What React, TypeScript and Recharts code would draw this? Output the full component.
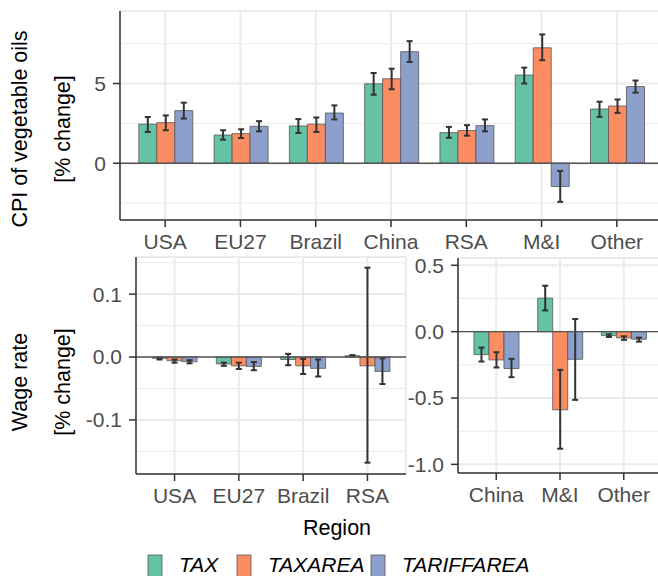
// Two-row bar chart with error bars: CPI of vegetable oils (top) and wage rate (bottom, split in two panels)
import React from "react";
import { BarChart, Bar, XAxis, YAxis, CartesianGrid, ErrorBar, ReferenceLine } from "recharts";

const FONT = '"Liberation Sans", Arial, Helvetica, sans-serif';

const SERIES = [
  { key: "tax", name: "TAX", color: "#66C2A5" },
  { key: "taxArea", name: "TAXAREA", color: "#FC8D62" },
  { key: "tariffArea", name: "TARIFFAREA", color: "#8DA0CB" },
];

// top panel: CPI of vegetable oils [% change]
const cpiRegions = ["USA", "EU27", "Brazil", "China", "RSA", "M&I", "Other"];
const cpiTax = [2.45, 1.77, 2.34, 4.98, 1.92, 5.53, 3.4];
const cpiTaxLo = [1.96, 1.48, 1.9, 4.3, 1.6, 5.0, 2.91];
const cpiTaxHi = [2.9, 2.07, 2.77, 5.66, 2.28, 6.0, 3.86];
const cpiTaxArea = [2.55, 1.86, 2.45, 5.3, 2.05, 7.24, 3.59];
const cpiTaxAreaLo = [2.07, 1.58, 1.96, 4.64, 1.73, 6.46, 3.16];
const cpiTaxAreaHi = [3.0, 2.13, 2.87, 5.93, 2.39, 8.08, 4.0];
const cpiTariff = [3.3, 2.32, 3.15, 7.0, 2.36, -1.46, 4.81];
const cpiTariffLo = [2.8, 2.0, 2.75, 6.35, 2.0, -2.42, 4.43];
const cpiTariffHi = [3.8, 2.64, 3.63, 7.66, 2.75, -0.48, 5.19];

// bottom left panel: wage rate [% change]
const wageRegionsA = ["USA", "EU27", "Brazil", "RSA"];
const wageTaxA = [-0.002, -0.011, -0.004, 0.002];
const wageTaxLoA = [-0.004, -0.014, -0.013, 0.001];
const wageTaxHiA = [-0.001, -0.009, 0.005, 0.003];
const wageTaxAreaA = [-0.006, -0.014, -0.014, -0.014];
const wageTaxAreaLoA = [-0.009, -0.019, -0.027, -0.168];
const wageTaxAreaHiA = [-0.004, -0.009, -0.003, 0.142];
const wageTariffA = [-0.0075, -0.015, -0.018, -0.023];
const wageTariffLoA = [-0.01, -0.021, -0.031, -0.043];
const wageTariffHiA = [-0.005, -0.008, -0.004, -0.002];

// bottom right panel: wage rate [% change]
const wageRegionsB = ["China", "M&I", "Other"];
const wageTaxB = [-0.173, 0.253, -0.03];
const wageTaxLoB = [-0.225, 0.16, -0.04];
const wageTaxHiB = [-0.12, 0.346, -0.02];
const wageTaxAreaB = [-0.213, -0.589, -0.047];
const wageTaxAreaLoB = [-0.27, -0.882, -0.062];
const wageTaxAreaHiB = [-0.155, -0.288, -0.035];
const wageTariffB = [-0.278, -0.208, -0.057];
const wageTariffLoB = [-0.343, -0.514, -0.075];
const wageTariffHiB = [-0.205, 0.095, -0.045];

type Triple = [number[], number[], number[]];

// asymmetric error bars: [below, above] the bar value
function buildRows(regions: string[], tax: Triple, taxArea: Triple, tariff: Triple) {
  return regions.map((region, i) => ({
    region,
    tax: tax[0][i],
    taxErr: [tax[0][i] - tax[1][i], tax[2][i] - tax[0][i]],
    taxArea: taxArea[0][i],
    taxAreaErr: [taxArea[0][i] - taxArea[1][i], taxArea[2][i] - taxArea[0][i]],
    tariffArea: tariff[0][i],
    tariffAreaErr: [tariff[0][i] - tariff[1][i], tariff[2][i] - tariff[0][i]],
  }));
}

const cpiRows = buildRows(
  cpiRegions,
  [cpiTax, cpiTaxLo, cpiTaxHi],
  [cpiTaxArea, cpiTaxAreaLo, cpiTaxAreaHi],
  [cpiTariff, cpiTariffLo, cpiTariffHi]
);
const wageRowsA = buildRows(
  wageRegionsA,
  [wageTaxA, wageTaxLoA, wageTaxHiA],
  [wageTaxAreaA, wageTaxAreaLoA, wageTaxAreaHiA],
  [wageTariffA, wageTariffLoA, wageTariffHiA]
);
const wageRowsB = buildRows(
  wageRegionsB,
  [wageTaxB, wageTaxLoB, wageTaxHiB],
  [wageTaxAreaB, wageTaxAreaLoB, wageTaxAreaHiB],
  [wageTariffB, wageTariffLoB, wageTariffHiB]
);

const BORDER = { stroke: "#333333", strokeWidth: 1.5 };
const TICK_TEXT = { fill: "#4d4d4d", fontSize: 21 };

interface PanelProps {
  rows: ReturnType<typeof buildRows>;
  width: number;
  height: number;
  marginTop: number;
  marginRight: number;
  yWidth: number;
  domain: [number, number];
  ticks: number[];
  minor: number[];
  pad: number;
  fmt: (v: number) => string;
}

function Panel({ rows, width, height, marginTop, marginRight, yWidth, domain, ticks, minor, pad, fmt }: PanelProps) {
  return (
    <BarChart
      width={width}
      height={height}
      data={rows}
      margin={{ top: marginTop, right: marginRight, bottom: 0, left: 0 }}
      barCategoryGap="15%"
      barGap={0}
    >
      <CartesianGrid stroke="#ebebeb" strokeWidth={2} />
      <CartesianGrid stroke="#ebebeb" strokeWidth={1} vertical={false} horizontalValues={minor} />
      <XAxis
        dataKey="region"
        height={40}
        padding={{ left: pad, right: pad }}
        interval={0}
        tickSize={7}
        tickMargin={7}
        tick={TICK_TEXT}
        tickLine={BORDER}
        axisLine={BORDER}
      />
      <XAxis xAxisId="top" dataKey="region" orientation="top" height={0} tick={false} tickLine={false} axisLine={BORDER} />
      <YAxis
        type="number"
        width={yWidth}
        domain={domain}
        allowDataOverflow
        ticks={ticks}
        interval={0}
        tickFormatter={fmt}
        tickSize={7}
        tickMargin={7}
        tick={TICK_TEXT}
        tickLine={BORDER}
        axisLine={BORDER}
      />
      <YAxis yAxisId="right" orientation="right" width={0} tick={false} tickLine={false} axisLine={BORDER} />
      {SERIES.map((s) => (
        <Bar key={s.key} dataKey={s.key} fill={s.color} stroke="#555555" strokeWidth={0.8} isAnimationActive={false}>
          <ErrorBar dataKey={`${s.key}Err`} width={3} stroke="#333333" strokeWidth={2} />
        </Bar>
      ))}
      <ReferenceLine y={0} stroke="#555555" strokeWidth={1.3} />
    </BarChart>
  );
}

export default function App() {
  return (
    <div
      style={{
        position: "fixed",
        left: 0,
        top: 0,
        width: 658,
        height: 576,
        overflow: "hidden",
        background: "#ffffff",
        fontFamily: FONT,
      }}
    >
      <div style={{ position: "absolute", left: 0, top: 0 }}>
        <Panel
          rows={cpiRows}
          width={662}
          height={260}
          marginTop={11}
          marginRight={0}
          yWidth={120}
          domain={[-3.56, 9.55]}
          ticks={[0, 5]}
          minor={[-2.5, 2.5, 7.5]}
          pad={7.5}
          fmt={(v) => String(v)}
        />
      </div>
      <div style={{ position: "absolute", left: 0, top: 240 }}>
        <Panel
          rows={wageRowsA}
          width={408}
          height={274}
          marginTop={17}
          marginRight={2}
          yWidth={136}
          domain={[-0.186, 0.159]}
          ticks={[-0.1, 0, 0.1]}
          minor={[-0.15, -0.05, 0.05, 0.15]}
          pad={6.4}
          fmt={(v) => v.toFixed(1)}
        />
      </div>
      <div style={{ position: "absolute", left: 400, top: 240 }}>
        <Panel
          rows={wageRowsB}
          width={262}
          height={273}
          marginTop={18}
          marginRight={0}
          yWidth={58}
          domain={[-1.065, 0.555]}
          ticks={[-1, -0.5, 0, 0.5]}
          minor={[-0.75, -0.25, 0.25]}
          pad={6.4}
          fmt={(v) => v.toFixed(1)}
        />
      </div>
      <svg
        width={658}
        height={576}
        style={{ position: "absolute", left: 0, top: 0, pointerEvents: "none" }}
        fontFamily={FONT}
      >
        <g fontSize={21.5} fill="#000000" textAnchor="middle">
          <text transform="translate(27,129) rotate(-90)">CPI of vegetable oils</text>
          <text transform="translate(70,129) rotate(-90)">[% change]</text>
          <text transform="translate(27,382) rotate(-90)">Wage rate</text>
          <text transform="translate(70,382) rotate(-90)">[% change]</text>
          <text x={337} y={535}>Region</text>
        </g>
        {SERIES.map((s, i) => {
          const keyX = [148, 237, 371][i];
          return (
            <g key={s.key}>
              <rect x={keyX} y={555} width={14} height={24} fill={s.color} stroke="#555555" strokeWidth={0.8} />
              <text x={keyX + 31} y={572} fontSize={21} fontStyle="italic" fill="#000000">
                {s.name}
              </text>
            </g>
          );
        })}
      </svg>
    </div>
  );
}
